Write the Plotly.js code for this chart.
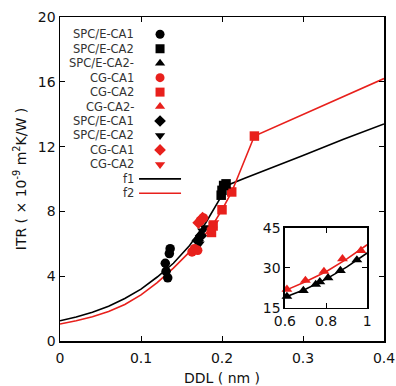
<!DOCTYPE html>
<html><head><meta charset="utf-8">
<script src="https://cdn.plot.ly/plotly-3.0.1.min.js"></script>
<style>html,body{margin:0;padding:0;background:#fff;}#chart{width:396px;height:386px;}</style>
</head><body><div id="chart"></div>
<script>
const BLACK = '#000000', RED = '#e8201c';
const FONT = 'DejaVu Sans, Verdana, sans-serif';

// ---- main panel data ----
const spcCA1_x = [0.130, 0.131, 0.133, 0.135, 0.136];
const spcCA1_y = [4.8, 4.3, 3.9, 5.4, 5.7];
const spcCA2_x = [0.199, 0.200, 0.202, 0.205];
const spcCA2_y = [9.0, 9.3, 9.6, 9.7];
const cgCA1_x = [0.163, 0.166, 0.170, 0.173, 0.177];
const cgCA1_y = [5.5, 5.7, 5.6, 7.4, 7.6];
const cgCA2_x = [0.187, 0.189, 0.200, 0.212, 0.240];
const cgCA2_y = [6.7, 7.1, 8.1, 9.2, 12.65];
const spcCA1b_x = [0.170, 0.174];
const spcCA1b_y = [6.2, 6.5];
const spcCA2b_x = [0.172, 0.176, 0.179];
const spcCA2b_y = [6.0, 6.8, 7.0];
const cgCA1b_x = [0.171, 0.176];
const cgCA1b_y = [7.3, 7.6];
const cgCA2b_x = [0.188, 0.190];
const cgCA2b_y = [6.9, 7.3];

// fit curves
const f1_x = [0, 0.02, 0.04, 0.06, 0.08, 0.1, 0.12, 0.14, 0.16, 0.18, 0.2, 0.206, 0.228, 0.27, 0.3, 0.35, 0.4];
const f1_y = [1.25, 1.48, 1.78, 2.15, 2.62, 3.2, 3.95, 4.8, 5.9, 7.3, 9.0, 9.6, 10.05, 10.85, 11.45, 12.45, 13.4];
const f2_x = [0, 0.02, 0.04, 0.06, 0.08, 0.1, 0.12, 0.14, 0.16, 0.175, 0.189, 0.2, 0.212, 0.228, 0.24, 0.4];
const f2_y = [1.05, 1.25, 1.5, 1.82, 2.25, 2.85, 3.6, 4.5, 5.5, 6.3, 7.2, 8.1, 9.2, 11.2, 12.65, 16.2];

// ---- inset data ----
const spcCA2m_x = [0.61, 0.69, 0.75, 0.77, 0.81, 0.87, 0.95];
const spcCA2m_y = [19.3, 21.5, 23.8, 24.8, 26.3, 29.0, 33.0];
const cgCA2m_x = [0.61, 0.70, 0.79, 0.88, 0.97];
const cgCA2m_y = [22.0, 25.3, 28.7, 33.4, 36.5];
const insetBlack_x = [0.6, 0.7, 0.8, 0.9, 1.0];
const insetBlack_y = [19.0, 22.0, 25.8, 30.3, 35.6];
const insetRed_x = [0.6, 0.7, 0.8, 0.9, 1.0];
const insetRed_y = [21.5, 24.8, 28.6, 33.3, 38.7];

// ---- legend ----
const legendNames = ['SPC/E-CA1','SPC/E-CA2','SPC/E-CA2-','CG-CA1','CG-CA2','CG-CA2-','SPC/E-CA1','SPC/E-CA2','CG-CA1','CG-CA2','f1','f2'];
const legendSymbols = ['circle','square','triangle-up','circle','square','triangle-up','diamond','triangle-down','diamond','triangle-down','line-ew','line-ew'];
const legendColors = [BLACK,BLACK,BLACK,RED,RED,RED,BLACK,BLACK,RED,RED,BLACK,RED];

const xTicks = [0, 0.1, 0.2, 0.3, 0.4];
const yTicks = [0, 4, 8, 12, 16, 20];
const xInsetTicks = [0.6, 0.8, 1];
const yInsetTicks = [15, 30, 45];

const MS = 9.5;
function pts(x, y, sym, color, xa, ya) {
  return {x: x, y: y, type: 'scatter', mode: 'markers', xaxis: xa || 'x', yaxis: ya || 'y',
    showlegend: false, hoverinfo: 'skip', cliponaxis: false,
    marker: {symbol: sym, color: color, size: MS, opacity: 1, line: {width: 0}}};
}
function line(x, y, color, xa, ya) {
  return {x: x, y: y, type: 'scatter', mode: 'lines', xaxis: xa || 'x', yaxis: ya || 'y',
    showlegend: false, hoverinfo: 'skip', line: {color: color, width: 1.6}};
}

const LX = 0.1235;
const traces = [
  line(f1_x, f1_y, BLACK), line(f2_x, f2_y, RED),
  pts(spcCA1_x, spcCA1_y, 'circle', BLACK),
  pts(spcCA1b_x, spcCA1b_y, 'diamond', BLACK),
  pts(spcCA2b_x, spcCA2b_y, 'triangle-down', BLACK),
  pts(cgCA1_x, cgCA1_y, 'circle', RED),
  pts(cgCA1b_x, cgCA1b_y, 'diamond', RED),
  pts(cgCA2_x, cgCA2_y, 'square', RED),
  pts(cgCA2b_x, cgCA2b_y, 'triangle-down', RED),
  pts(spcCA2_x, spcCA2_y, 'square', BLACK),
  line(insetBlack_x, insetBlack_y, BLACK, 'x2', 'y2'),
  line(insetRed_x, insetRed_y, RED, 'x2', 'y2'),
  pts(spcCA2m_x, spcCA2m_y, 'triangle-up', BLACK, 'x2', 'y2'),
  pts(cgCA2m_x, cgCA2m_y, 'triangle-up', RED, 'x2', 'y2'),
  {x: legendNames.map(() => LX), y: legendNames.map((n, i) => i), type: 'scatter', mode: 'markers',
   xaxis: 'x3', yaxis: 'y3', showlegend: false, hoverinfo: 'skip', cliponaxis: false,
   marker: {symbol: legendSymbols, color: legendColors, opacity: 1,
     size: legendSymbols.map(s => s === 'line-ew' ? 30 : 9),
     line: {color: legendColors, width: legendSymbols.map(s => s === 'line-ew' ? 1.6 : 0)}}}
];

const annotations = legendNames.map((n, i) => ({
  text: n, x: LX, y: i, xref: 'x3', yref: 'y3', xanchor: 'right', yanchor: 'middle',
  xshift: -24, showarrow: false, font: {family: FONT, size: 11.5, color: '#333333'}
}));

const axBase = {showline: true, linecolor: BLACK, linewidth: 1.5, mirror: 'ticks', ticks: 'inside',
  ticklen: 5, tickcolor: BLACK, showgrid: false, zeroline: false,
  tickfont: {family: FONT, size: 14, color: '#111'}};

const layout = {
  width: 396, height: 386,
  margin: {l: 60, r: 12, t: 17, b: 45},
  paper_bgcolor: '#fff', plot_bgcolor: 'rgba(0,0,0,0)',
  showlegend: false,
  font: {family: FONT, color: '#111'},
  xaxis: Object.assign({}, axBase, {domain: [0, 1], range: [0, 0.4], tickvals: xTicks,
    ticktext: xTicks.map(String), anchor: 'y', ticklabelstandoff: 4,
    title: {text: 'DDL ( nm )', font: {family: FONT, size: 14, color: '#111'}, standoff: 9}}),
  yaxis: Object.assign({}, axBase, {domain: [0, 1], range: [0, 20], tickvals: yTicks, anchor: 'x',
    title: {text: 'ITR ( × 10<sup>-9</sup> m<sup>2</sup>K/W )', font: {family: FONT, size: 14, color: '#111'}, standoff: 8}}),
  xaxis2: Object.assign({}, axBase, {domain: [0.694, 0.948], range: [0.6, 1], tickvals: xInsetTicks,
    ticktext: xInsetTicks.map(String), anchor: 'y2'}),
  yaxis2: Object.assign({}, axBase, {domain: [0.102, 0.349], range: [15, 45], tickvals: yInsetTicks, anchor: 'x2'}),
  xaxis3: {domain: [0, 1], range: [0, 0.4], visible: false, anchor: 'y3', fixedrange: true},
  yaxis3: {domain: [0, 1], range: [21.22, -1.197], visible: false, anchor: 'x3', fixedrange: true},
  annotations: annotations
};

Plotly.newPlot('chart', traces, layout, {displayModeBar: false, staticPlot: true});
</script></body></html>
